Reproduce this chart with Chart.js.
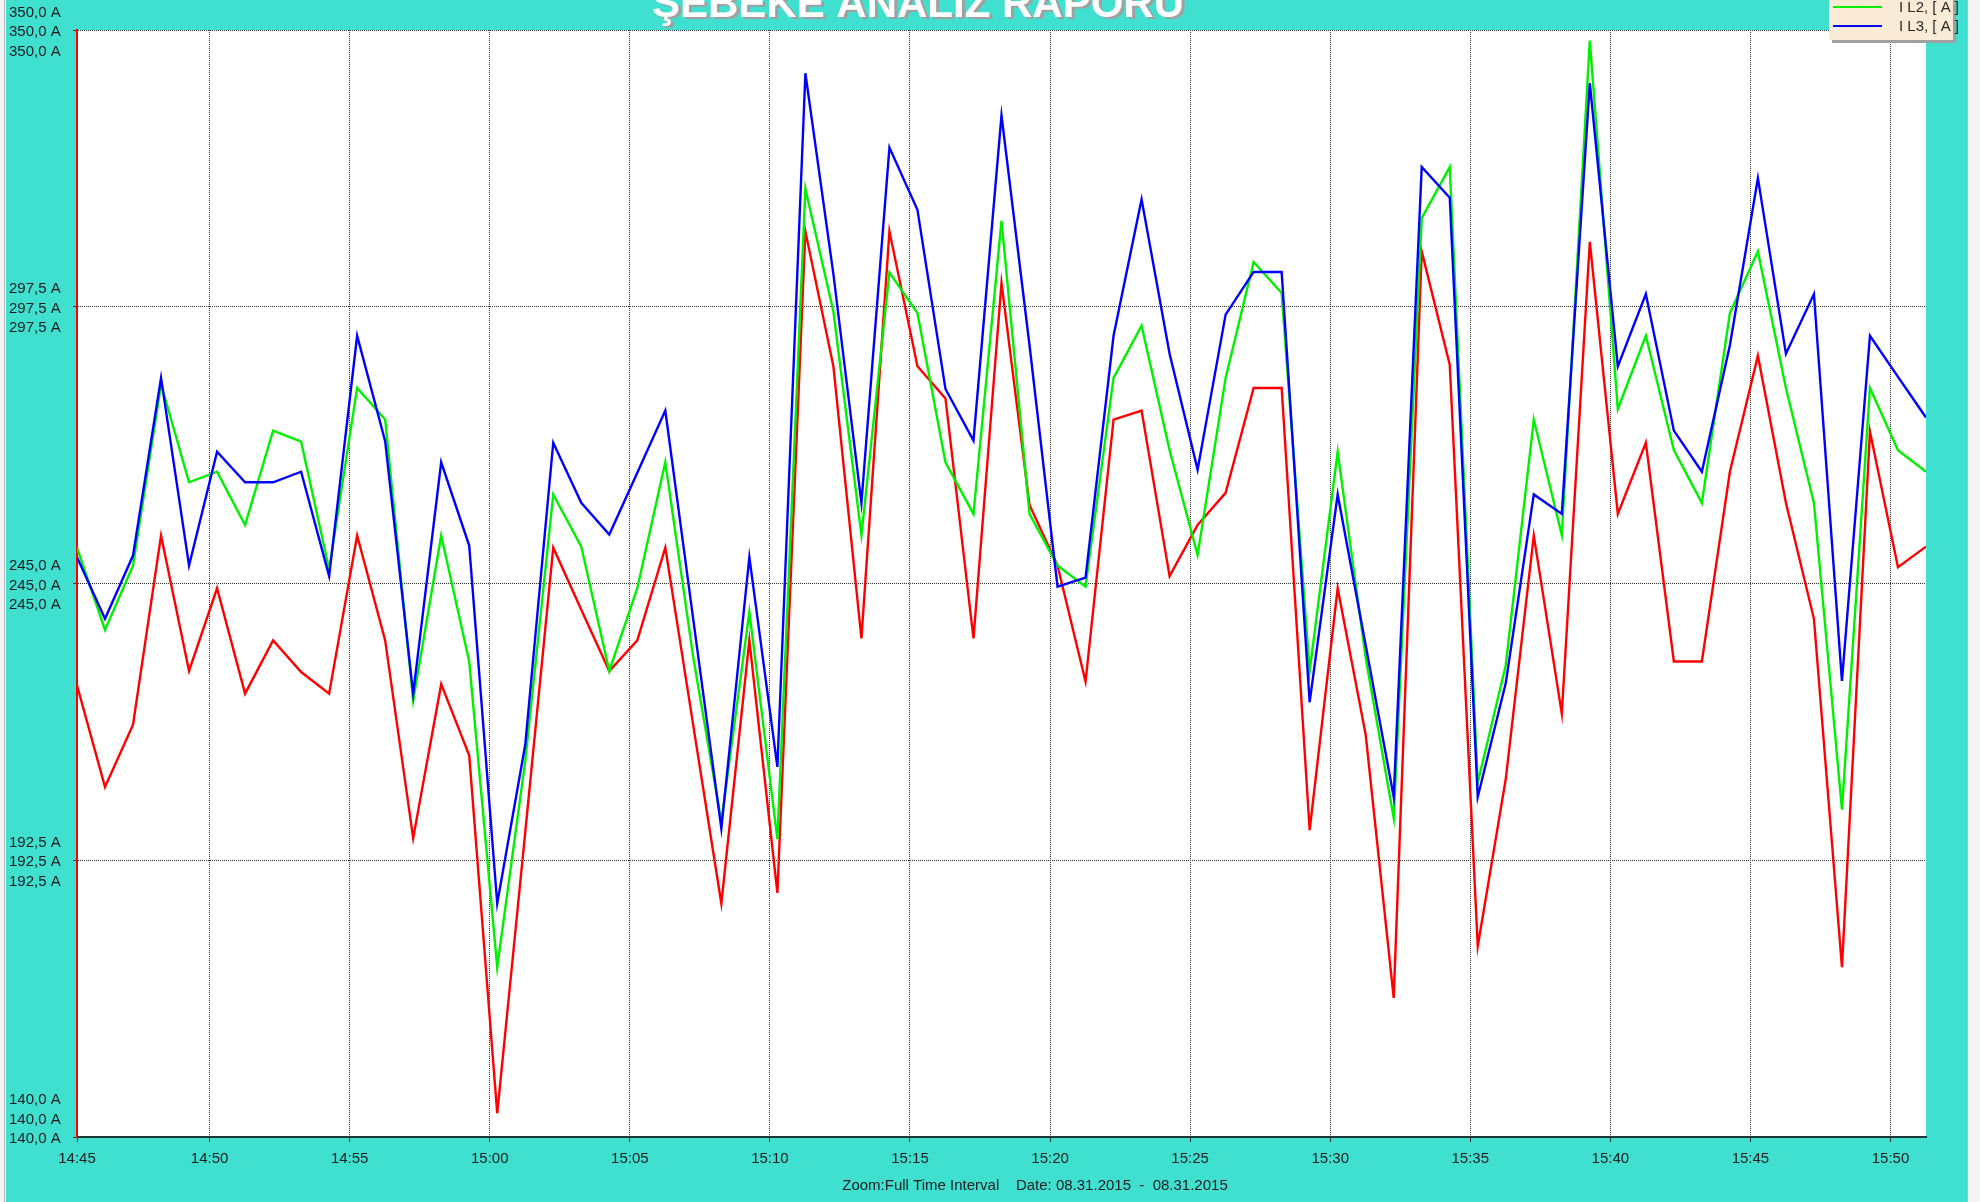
<!DOCTYPE html>
<html>
<head>
<meta charset="utf-8">
<title>Şebeke Analiz Raporu</title>
<script src="https://cdn.jsdelivr.net/npm/chart.js@4.4.1/dist/chart.umd.min.js"></script>
<style>
  html, body { margin: 0; padding: 0; background: #fff; }
  #wrap { width: 1980px; height: 1202px; position: relative; }
</style>
</head>
<body>
<div id="wrap"><canvas id="chart" width="1980" height="1202"></canvas></div>
<script>
// ── Chart texts ──
const TITLE = 'ŞEBEKE ANALİZ RAPORU';
const FOOTER = 'Zoom:Full Time Interval    Date: 08.31.2015  -  08.31.2015';

// ── Sampling: one reading per minute, first one at 14:45:16 ──
const FIRST_SAMPLE = '14:45:16';
const SAMPLE_STEP_MIN = 1;

// ── Axis ticks ──
const xTickLabels = ['14:45', '14:50', '14:55', '15:00', '15:05', '15:10', '15:15',
  '15:20', '15:25', '15:30', '15:35', '15:40', '15:45', '15:50'];
const yTicks = [140, 192.5, 245, 297.5, 350];

// ── Series (A) ──
const seriesLabels = ['I L1, [ A ]', 'I L2, [ A ]', 'I L3, [ A ]'];
const seriesColors = ['#ff0000', '#00f000', '#0000ff'];

const iL1 = [
  225.7, 206.4, 218.2, 254.1, 228.4, 244.1, 224.1, 234.2, 228.2, 224.1,
  254.1, 234.2, 196.7, 225.9, 212.4, 144.5, 197.8, 251.8, 240.0, 228.4,
  234.2, 251.8, 218.0, 184.3, 234.2, 186.3, 311.8, 286.2, 234.6, 311.8,
  286.2, 280.1, 234.6, 302.0, 259.9, 248.4, 226.4, 276.1, 277.8, 246.4,
  256.1, 262.2, 282.1, 282.1, 198.2, 244.1, 216.3, 166.4, 308.0, 286.5,
  176.2, 207.9, 254.1, 220.3, 309.8, 258.2, 271.7, 230.2, 230.2, 266.2,
  288.2, 260.3, 238.3, 172.2, 273.8, 248.1, 252.0
];
const iL2 = [
  251.8, 236.2, 248.4, 282.8, 264.2, 266.2, 256.1, 274.0, 271.9, 247.7,
  282.1, 276.1, 222.8, 254.1, 230.2, 172.2, 211.3, 261.9, 252.0, 228.4,
  244.1, 268.0, 230.9, 199.8, 239.6, 196.5, 319.9, 296.6, 254.2, 304.0,
  296.3, 268.0, 258.2, 313.8, 258.2, 248.4, 244.4, 284.0, 293.9, 270.3,
  250.4, 284.0, 306.0, 300.1, 228.4, 270.0, 230.9, 200.5, 314.3, 324.0,
  207.2, 229.5, 276.1, 254.2, 348.0, 278.1, 292.0, 270.3, 260.3, 296.3,
  308.0, 282.1, 260.3, 202.1, 282.1, 270.3, 266.2
];
const iL3 = [
  250.0, 238.3, 250.3, 284.0, 248.4, 270.0, 264.2, 264.2, 266.2, 246.4,
  292.0, 272.0, 224.1, 268.0, 252.2, 184.3, 214.4, 271.7, 260.3, 254.3,
  266.0, 277.8, 238.1, 198.5, 250.0, 210.2, 341.8, 303.7, 260.3, 327.7,
  315.9, 281.9, 272.1, 333.8, 290.2, 244.4, 246.1, 292.0, 317.9, 288.6,
  266.6, 296.0, 304.1, 304.1, 222.5, 261.9, 233.3, 204.5, 324.0, 318.2,
  204.5, 226.1, 261.9, 258.2, 339.9, 286.2, 299.9, 274.0, 266.2, 290.2,
  321.9, 288.6, 299.9, 226.5, 292.0, 284.2, 276.5
];
const seriesValues = [iL1, iL2, iL3];

// ── Helpers ──
// minutes after 14:00
function toMinutes(hms) {
  const [h, m, s] = hms.split(':').map(Number);
  return (h - 14) * 60 + m + (s || 0) / 60;
}

function fmtAmp(v) {
  return v.toFixed(1).replace('.', ',') + ' A';
}

const FONT = '"Liberation Sans", Arial, sans-serif';
const TEXT_COLOR = '#1c1c1c';
const PANEL = '#40e0d0';
const GRID = '#303030';

const firstX = toMinutes(FIRST_SAMPLE);
const lastX = firstX + (iL1.length - 1) * SAMPLE_STEP_MIN;

// ── Background, title, legend and footer ──
const framePlugin = {
  id: 'frame',
  beforeDraw(chart) {
    const { ctx, chartArea: a, width, height } = chart;
    ctx.save();
    ctx.fillStyle = '#f4f4f4';
    ctx.fillRect(0, 0, width, height);
    ctx.fillStyle = PANEL;
    ctx.fillRect(6, 0, 1961, height);
    ctx.fillStyle = '#b8b8b8';
    ctx.fillRect(4, 0, 1, height);
    ctx.fillRect(1967, 0, 1, height);
    ctx.fillStyle = '#ffffff';
    ctx.fillRect(a.left, a.top, a.right - a.left, a.bottom - a.top);
    ctx.restore();
  },
  afterDraw(chart) {
    const { ctx } = chart;
    ctx.save();

    // title, cut off by the top edge
    ctx.font = 'bold 42px ' + FONT;
    ctx.textAlign = 'center';
    ctx.textBaseline = 'alphabetic';
    ctx.fillStyle = '#a0a0a0';
    ctx.fillText(TITLE, 921, 19);
    ctx.fillStyle = '#ffffff';
    ctx.fillText(TITLE, 918, 17);

    // legend box (first entry sits above the window)
    ctx.fillStyle = '#a0a0a0';
    ctx.fillRect(1832, -28, 124, 71);
    ctx.fillStyle = '#faebd7';
    ctx.fillRect(1829, -31, 124, 71);
    ctx.font = '15px ' + FONT;
    ctx.textAlign = 'left';
    ctx.textBaseline = 'middle';
    chart.data.datasets.forEach((ds, i) => {
      const y = -12 + i * 19;
      ctx.strokeStyle = ds.borderColor;
      ctx.lineWidth = 2;
      ctx.beginPath();
      ctx.moveTo(1833, y);
      ctx.lineTo(1882, y);
      ctx.stroke();
      ctx.fillStyle = '#2a2a2a';
      ctx.fillText(ds.label, 1899, y + 1);
    });

    // footer
    ctx.font = '15px ' + FONT;
    ctx.textAlign = 'center';
    ctx.fillStyle = TEXT_COLOR;
    ctx.fillText(FOOTER, 1035, 1186);
    ctx.restore();
  }
};

// ── Datasets ──
const datasets = seriesValues.map((vals, s) => ({
  label: seriesLabels[s],
  data: vals.map((v, i) => ({ x: firstX + i * SAMPLE_STEP_MIN, y: v })),
  borderColor: seriesColors[s],
  backgroundColor: seriesColors[s],
  borderWidth: 2.4,
  pointRadius: 0,
  tension: 0,
  fill: false,
  order: seriesValues.length - s   // L3 on top
}));

// ── Chart ──
new Chart(document.getElementById('chart'), {
  type: 'line',
  data: { datasets },
  plugins: [framePlugin],
  options: {
    responsive: false,
    animation: false,
    layout: { padding: { left: 9, top: 30, right: 54, bottom: 25 } },
    plugins: {
      legend: { display: false },
      title: { display: false },
      tooltip: { enabled: false }
    },
    scales: {
      x: {
        type: 'linear',
        min: firstX,
        max: lastX,
        afterBuildTicks: axis => {
          axis.ticks = xTickLabels.map((t, k) => ({ value: k === 0 ? axis.min : toMinutes(t) }));
        },
        afterFit: axis => {
          axis.height = 40;
          axis.paddingLeft = 0; axis.paddingRight = 0;
        },
        grid: { color: GRID, lineWidth: 1, tickLength: 5, tickColor: '#222' },
        border: { display: true, color: '#1d3535', width: 2, dash: [1, 1] },
        ticks: {
          autoSkip: false,
          maxRotation: 0,
          padding: 8,
          color: TEXT_COLOR,
          font: { family: FONT, size: 15 },
          callback: (v, i) => xTickLabels[i]
        }
      },
      y: {
        min: yTicks[0],
        max: yTicks[yTicks.length - 1],
        afterBuildTicks: axis => { axis.ticks = yTicks.map(v => ({ value: v })); },
        afterFit: axis => {
          axis.width = 68;
          axis.paddingTop = 0; axis.paddingBottom = 0;
        },
        grid: { color: GRID, lineWidth: 1, tickLength: 4, tickColor: '#222' },
        border: { display: true, color: '#ff0000', width: 2, dash: [1, 1] },
        ticks: {
          crossAlign: 'far',
          padding: 4,
          labelOffset: 2,
          color: TEXT_COLOR,
          font: { family: FONT, size: 15, lineHeight: 1.3 },
          // the three phase axes share one scale, so each value is printed three times;
          // at the bottom the stack is lifted so it stays above the time axis
          callback: (v, i) => i === 0
            ? [fmtAmp(v), fmtAmp(v), fmtAmp(v), '', '']
            : [fmtAmp(v), fmtAmp(v), fmtAmp(v)]
        }
      }
    }
  }
});
</script>
</body>
</html>
